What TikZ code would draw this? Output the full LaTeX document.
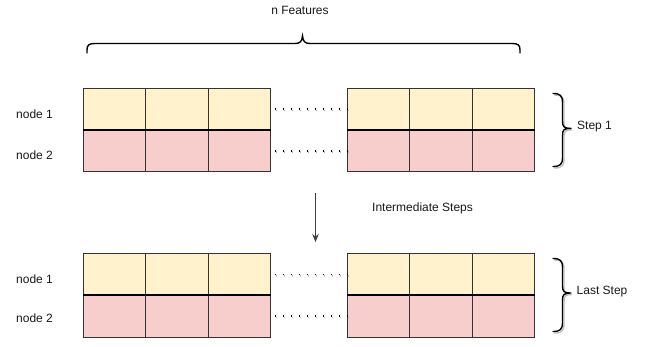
\documentclass[tikz,border=0pt]{standalone}
\usepackage{fontspec}
\setmainfont{Liberation Sans}
\usetikzlibrary{arrows.meta}
\definecolor{yel}{HTML}{FFF2CC}
\definecolor{pnk}{HTML}{F8CECC}
\begin{document}
\begin{tikzpicture}[x=1pt,y=-1pt,
  cell/.style={draw=black!80, line width=0.8pt, minimum width=62.5pt, minimum height=41.75pt, inner sep=0pt, outer sep=0pt},
  lbl/.style={font=\fontsize{12}{14}\selectfont, inner sep=0pt, text=black!90},
  dotline/.style={line width=1.6pt, dash pattern=on 1.6pt off 6.4pt, dash phase=-4pt, black},
  dotshadow/.style={dotline, black!30},
  midline/.style={line width=1.7pt, black},
  bracestyle/.style={line width=1.4pt, black, line cap=round},
  braceshadow/.style={bracestyle, black!25},
  arr/.style={line width=0.8pt, black!75, -{Stealth[length=8pt,width=6.5pt]}}
]
\useasboundingbox (0,0) rectangle (651,346);
\fill[white] (0,0) rectangle (651,346);

% cells
\foreach \r/\yc/\col in {a/109/yel, b/150.75/pnk, c/274.4/yel, d/316.15/pnk} {
  \foreach \i/\x in {1/114.25, 2/176.75, 3/239.25, 4/378.25, 5/440.75, 6/503.25} {
    \node[cell, fill=\col] (\r\i) at (\x,\yc) {};
  }
}
\draw[midline] (a1.south west) -- (a3.south east);
\draw[midline] (a4.south west) -- (a6.south east);
\draw[midline] (c1.south west) -- (c3.south east);
\draw[midline] (c4.south west) -- (c6.south east);

% dotted connectors
\foreach \l/\rr in {a3/a4, b3/b4, c3/c4, d3/d4} {
  \draw[dotshadow] ([xshift=1pt,yshift=-1.5pt]\l.east) -- ([xshift=1pt,yshift=-1.5pt]\rr.west);
  \draw[dotline] (\l.east) -- (\rr.west);
}

% row labels
\node[lbl, anchor=west] (n1a) at (16,114.5) {node 1};
\node[lbl, anchor=west] (n2a) at (16,155.5) {node 2};
\node[lbl, anchor=west] (n1b) at (16,279.5) {node 1};
\node[lbl, anchor=west] (n2b) at (16,318.5) {node 2};

% top brace
\node[lbl] (feat) at (300,10.5) {n Features};
\draw[bracestyle] (87,53) -- (87,50) .. controls (87,45) and (89,43.5) .. (95,43.5)
  -- (295,43.5) .. controls (300,43.5) and (302,41.5) .. (302.5,36)
  .. controls (303,41.5) and (305,43.5) .. (310,43.5)
  -- (512,43.5) .. controls (518,43.5) and (520,45) .. (520,50) -- (520,53);

% right braces
\foreach \t/\b/\m in {93.5/166.5/128.3, 258.5/331.5/293} {
  \draw[braceshadow, shift={(1.5,1.5)}] (553,\t) .. controls (560,\t) and (562.5,\t+2) .. (562.5,\t+9)
    -- (562.5,\m-7) .. controls (562.5,\m-1.5) and (564,\m) .. (570,\m)
    (570,\m) .. controls (564,\m) and (562.5,\m+1.5) .. (562.5,\m+7)
    -- (562.5,\b-9) .. controls (562.5,\b-2) and (560,\b) .. (553,\b);
  \draw[bracestyle] (553,\t) .. controls (560,\t) and (562.5,\t+2) .. (562.5,\t+9)
    -- (562.5,\m-7) .. controls (562.5,\m-1.5) and (564,\m) .. (571,\m)
    (571,\m) .. controls (564,\m) and (562.5,\m+1.5) .. (562.5,\m+7)
    -- (562.5,\b-9) .. controls (562.5,\b-2) and (560,\b) .. (553,\b);
}
\node[lbl, anchor=west] (s1) at (577,127) {Step 1};
\node[lbl, anchor=west] (ls) at (576.5,292) {Last Step};

% arrow
\coordinate (arrtop) at (315.5,193);
\coordinate (arrbot) at (315.5,242);
\draw[arr] (arrtop) -- (arrbot);
\node[lbl, anchor=west] (inter) at (372,208) {Intermediate Steps};
\end{tikzpicture}
\end{document}
